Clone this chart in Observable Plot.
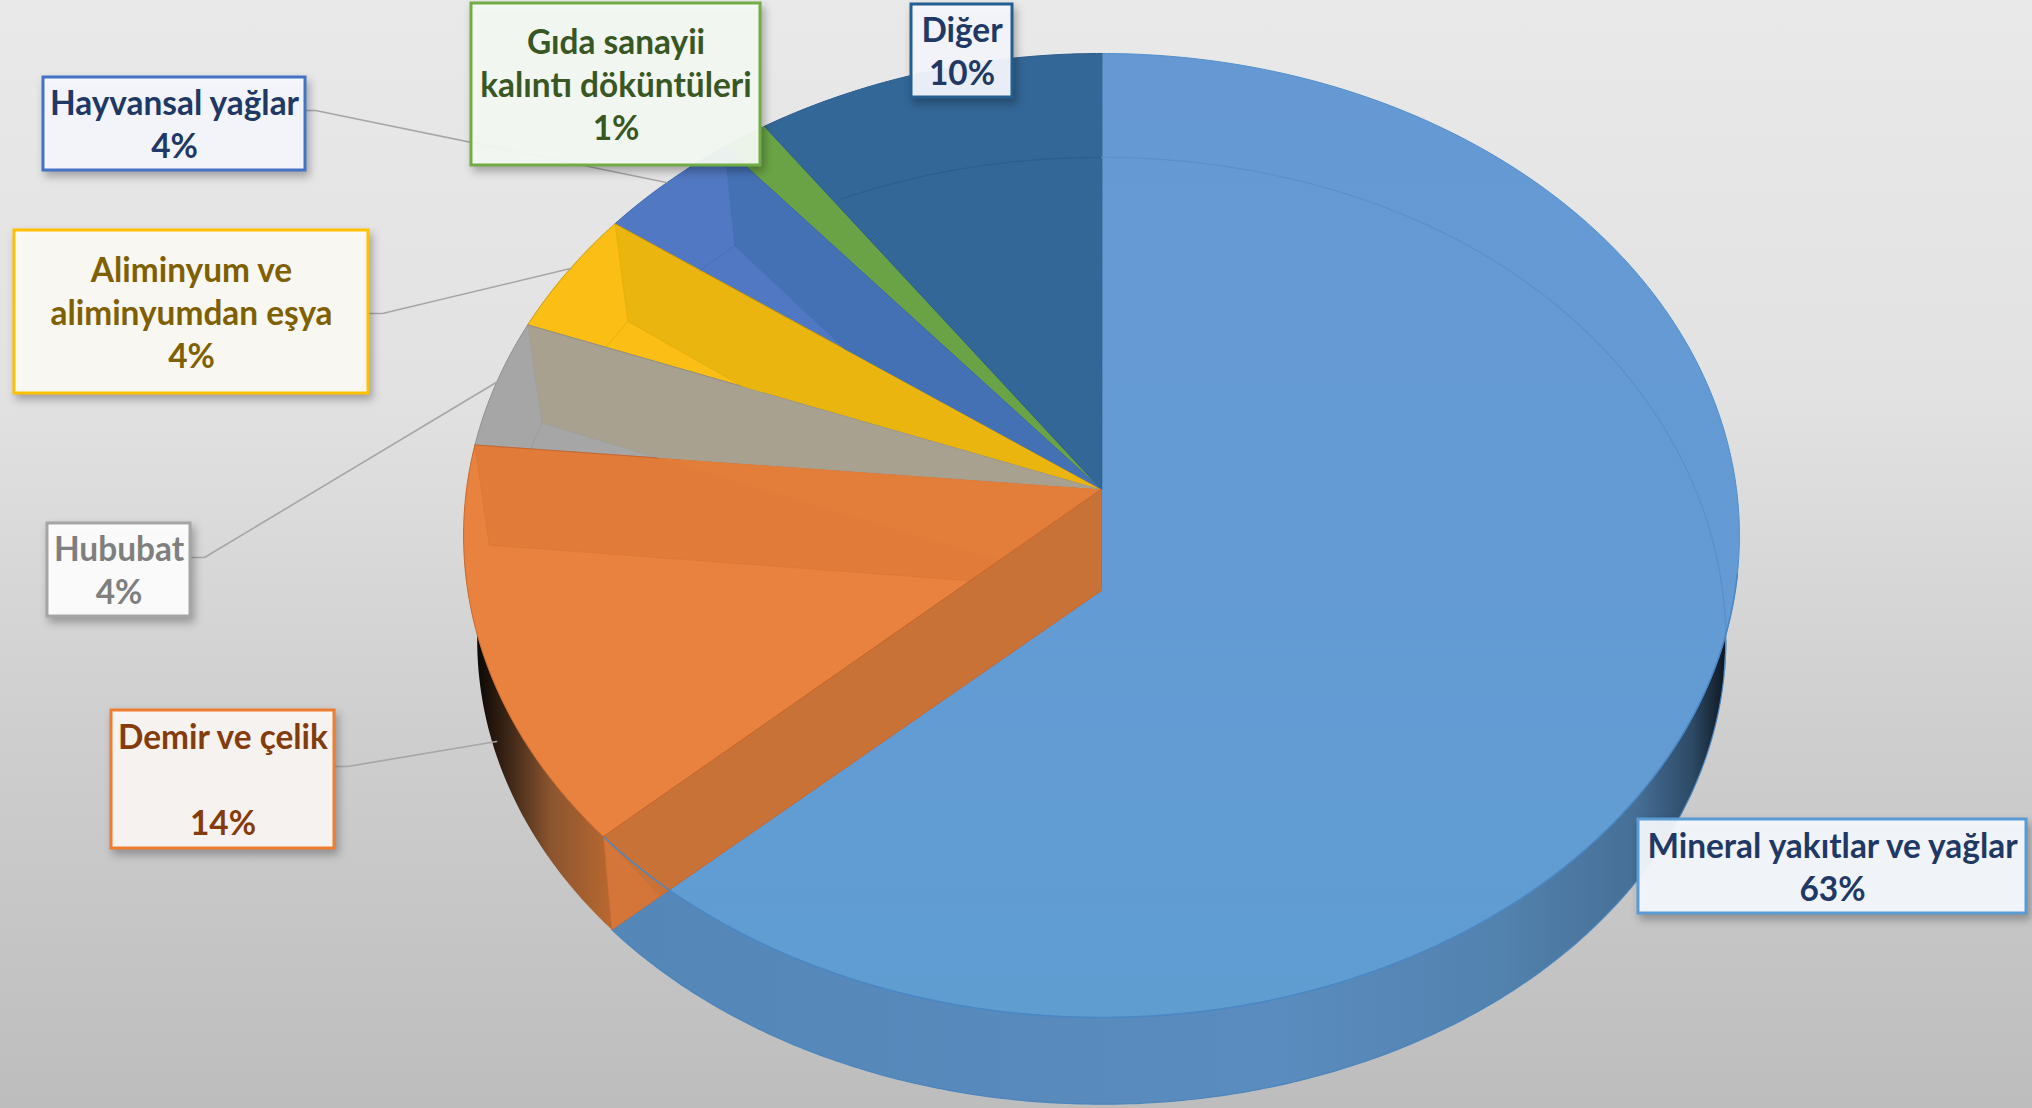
<!DOCTYPE html>
<html lang="tr">
<head>
<meta charset="utf-8">
<title>Pasta grafiği</title>
<script src="https://cdn.jsdelivr.net/npm/d3@7"></script>
<script src="https://cdn.jsdelivr.net/npm/@observablehq/plot@0.6"></script>
<style>
  html, body { margin: 0; padding: 0; width: 2032px; height: 1108px; overflow: hidden;
    background: linear-gradient(to bottom, #e9e9e9 0%, #e2e2e2 35%, #cfcfcf 65%, #bdbdbd 100%); }
  svg { display: block; }
</style>
</head>
<body>
<div id="chart"></div>
<script>
// ---- values (clockwise from 12 o'clock) ----
const categories = ["Mineral yakıtlar ve yağlar", "Demir ve çelik", "Hububat", "Aliminyum ve\naliminyumdan eşya", "Hayvansal yağlar", "Gıda sanayii\nkalıntı döküntüleri", "Diğer"];
const shares = [63.1, 13.4, 4.3, 4.2, 4.0, 1.3, 9.7];
const percentLabels = ["63%", "14%", "4%", "4%", "4%", "1%", "10%"];
const labelBreaks = ["\n", "\n\n", "\n", "\n", "\n", "\n", "\n"];

// ---- styles ----
const sliceFill  = ["url(#mineralTop)", "#e8823e", "#a6a6a6", "#fbbe14", "#5178c2", "#6aa346", "#336797"];
const wallFill   = [null, "#e07b3a", "#a8a18f", "#e9b50e", "#4471b4", null, null];
const edgeColor  = ["#4f8fcb", "#c9662b", "#8f8f8f", "#c99a0c", "#3d66ad", "#5f963c", "#2a5c8c"];
const boxStroke  = ["#5b9bd5", "#ed7d31", "#a5a5a5", "#ffc000", "#4472c4", "#70ad47", "#255e91"];
const boxFill    = ["#f5f9fe", "#fcf8f4", "#ffffff", "#fdfcf5", "#f7f9ff", "#f7fbf4", "#f5f8fd"];
const textColor  = ["#1f3864", "#843c0c", "#7f7f7f", "#7f6000", "#1f3864", "#385723", "#1f3864"];

// ---- label layout: box [left, top, right, bottom], leader elbow and end ----
const boxes = [[1638,819,2026,913],[111,710,334,848],[47,523,190,616],[14,230,368,393],[43,77,305,170],[471,3,760,165],[911,4,1012,97]];
const leaders = [null, [[335,766],[347,766],[496,741]], [[191,557],[204,557],[499,380]], [[369,313],[382,313],[570,268]], [[306,110],[315,110],[666,182]], null, null];

// ---- perspective of the two discs ----
const topDisc = {cx:1101, cy:489, rx:635, sy:477.6, k:0.0954, kx:0.0954, bulge:0};
const botDisc = {cx:1101, cy:590, rx:621, sy:470,   k:0.085,  kx:0.103,  bulge:15.6};
const rad = d => d * Math.PI / 180;
const pt = (disc, deg) => {
  const u = Math.sin(rad(deg)), v = -Math.cos(rad(deg));
  const extra = v < 0 ? disc.bulge * v * (1 - v * v) : 0;
  return {x: disc.cx + disc.rx * u / (1 - disc.kx * v), y: disc.cy + disc.sy * v / (1 - disc.k * v) + extra};
};
const arc = (disc, a, b) => {
  const n = Math.max(2, Math.ceil(Math.abs(b - a) * 2)), out = [];
  for (let i = 0; i <= n; ++i) out.push(pt(disc, a + (b - a) * i / n));
  return out;
};
const apex  = {x: topDisc.cx, y: topDisc.cy};
const apex2 = {x: botDisc.cx, y: botDisc.cy};
const cross = (p1, p2, p3, p4) => {
  const d = (p1.x-p2.x)*(p3.y-p4.y) - (p1.y-p2.y)*(p3.x-p4.x);
  const a = p1.x*p2.y - p1.y*p2.x, b = p3.x*p4.y - p3.y*p4.x;
  return {x: (a*(p3.x-p4.x) - (p1.x-p2.x)*b)/d, y: (a*(p3.y-p4.y) - (p1.y-p2.y)*b)/d};
};

const cumulative = d3.cumsum(shares);
const total = cumulative[cumulative.length - 1];
const angleEnd = cumulative.map(c => c / total * 360);
const angleStart = angleEnd.map((e, i) => i ? angleEnd[i-1] : 0);

const poly = (points, o) => Plot.line(points, {x:"x", y:"y", curve:"linear-closed", stroke:"none", strokeLinejoin:"round", ...o});
const open = (points, o) => Plot.line(points, {x:"x", y:"y", fill:"none", ...o});

const seam = angleEnd[0];
const marks = [];

// gradients
marks.push(() => {
  const defs = d3.create("svg:defs");
  const grad = (id, stops, vertical) => {
    const g = defs.append("linearGradient").attr("id", id)
      .attr("x1", 0).attr("y1", 0).attr("x2", vertical ? 0 : 1).attr("y2", vertical ? 1 : 0);
    stops.forEach(([o, c]) => g.append("stop").attr("offset", o).attr("stop-color", c));
  };
  grad("mineralTop", [[0,"#6699d4"],[0.55,"#649bd4"],[1,"#5f9dd1"]], true);
  grad("mineralWall", [[0,"#5486b8"],[0.6,"#5a8cbf"],[0.8,"#5282ae"],[0.92,"#466f96"],[0.97,"#2d4a66"],[1,"#0e1620"]], false);
  grad("orangeWall", [[0,"#0c0805"],[0.22,"#3a2415"],[0.55,"#8c5530"],[1,"#b9682f"]], false);
  return defs.node();
});

// side walls of the pie
marks.push(poly([...arc(topDisc, 107.4, seam), ...arc(botDisc, seam, 95.5)], {fill:"url(#mineralWall)"}));
marks.push(poly([...arc(topDisc, seam, 252.5), ...arc(botDisc, 265, seam)], {fill:"url(#orangeWall)"}));
marks.push(open(arc(botDisc, 96, seam), {stroke:"#4a85bd", strokeWidth:1.2}));

// top faces
shares.forEach((s, i) => {
  marks.push(poly([apex, ...arc(topDisc, angleStart[i], angleEnd[i])],
    {fill: sliceFill[i], stroke: edgeColor[i], strokeWidth: 1}));
});

// far radial walls seen through the top faces
shares.forEach((s, i) => {
  if (!wallFill[i]) return;
  const A = pt(topDisc, angleEnd[i]), B = pt(botDisc, angleEnd[i]);
  const S = pt(topDisc, angleStart[i]);
  const P = cross(B, apex2, apex, S);
  marks.push(poly([apex, A, B, P], {fill: wallFill[i]}));
  marks.push(open([A, B, P], {stroke: edgeColor[i], strokeWidth: 0.7, strokeOpacity: 0.35}));
  if (i > 1) {
    const Q = cross(B, pt(botDisc, angleStart[i]), apex, S);
    marks.push(open([B, Q], {stroke: edgeColor[i], strokeWidth: 0.8, strokeOpacity: 0.5}));
  }
  marks.push(open([apex, A], {stroke: edgeColor[i], strokeWidth: 1}));
});
// the grey wall showing faintly through the orange face
{
  const B = pt(botDisc, angleEnd[2]);
  const Pa = cross(B, apex2, apex, pt(topDisc, angleStart[2]));
  const Pb = cross(B, apex2, apex, pt(topDisc, seam));
  marks.push(poly([apex, Pa, Pb], {fill:"#e37e3a"}));
}

// far rim of the bottom disc seen through the top faces
marks.push(open(arc(botDisc, 332.8, 360), {stroke:"#2c5f90", strokeWidth:1.4}));
marks.push(open(arc(botDisc, 0, 100), {stroke:"#5a90c8", strokeWidth:1.2}));

// near radial wall of the orange slice
marks.push(poly([apex, apex2, pt(botDisc, seam), pt(topDisc, seam)], {fill:"#c97237", stroke:"#c9662b", strokeWidth:1}));
marks.push(poly([pt(topDisc, seam), pt(botDisc, seam), cross(apex2, pt(botDisc, seam), pt(topDisc, seam), pt(topDisc, seam + 6))],
  {fill:"#d8763a", fillOpacity:0.7}));

// near rim of the top face
marks.push(open(arc(topDisc, 100, seam), {stroke:"#4a87c4", strokeWidth:1.5}));

// leader lines
leaders.forEach(l => {
  if (l) marks.push(open(l.map(([x, y]) => ({x, y})), {stroke:"#a6a6a6", strokeWidth:1.6}));
});

// label boxes
const labels = categories.map((c, i) => ({
  name: c + labelBreaks[i] + percentLabels[i],
  x1: boxes[i][0], y1: boxes[i][1], x2: boxes[i][2], y2: boxes[i][3],
  cx: (boxes[i][0] + boxes[i][2]) / 2, cy: (boxes[i][1] + boxes[i][3]) / 2 - 1,
  i
}));
labels.forEach(d => {
  marks.push(Plot.rect([d], {x1:"x1", x2:"x2", y1:"y1", y2:"y2", fill: boxFill[d.i], fillOpacity:0.94,
    stroke: boxStroke[d.i], strokeWidth:3, imageFilter:"drop-shadow(3px 5px 4px rgba(0,0,0,0.3))"}));
  marks.push(Plot.text([d], {x:"cx", y:"cy", text:"name", fill: textColor[d.i], fontSize:33.4,
    fontWeight:700, fontFamily:"Lato, Carlito, sans-serif", lineHeight:1.29, textAnchor:"middle", lineAnchor:"middle"}));
});

const chart = Plot.plot({
  width: 2032, height: 1108,
  marginTop: 0, marginRight: 0, marginBottom: 0, marginLeft: 0,
  x: {domain: [0, 2032], axis: null},
  y: {domain: [0, 1108], range: [0, 1108], axis: null},
  style: {background: "transparent", overflow: "hidden"},
  marks
});
document.getElementById("chart").append(chart);
</script>
</body>
</html>
